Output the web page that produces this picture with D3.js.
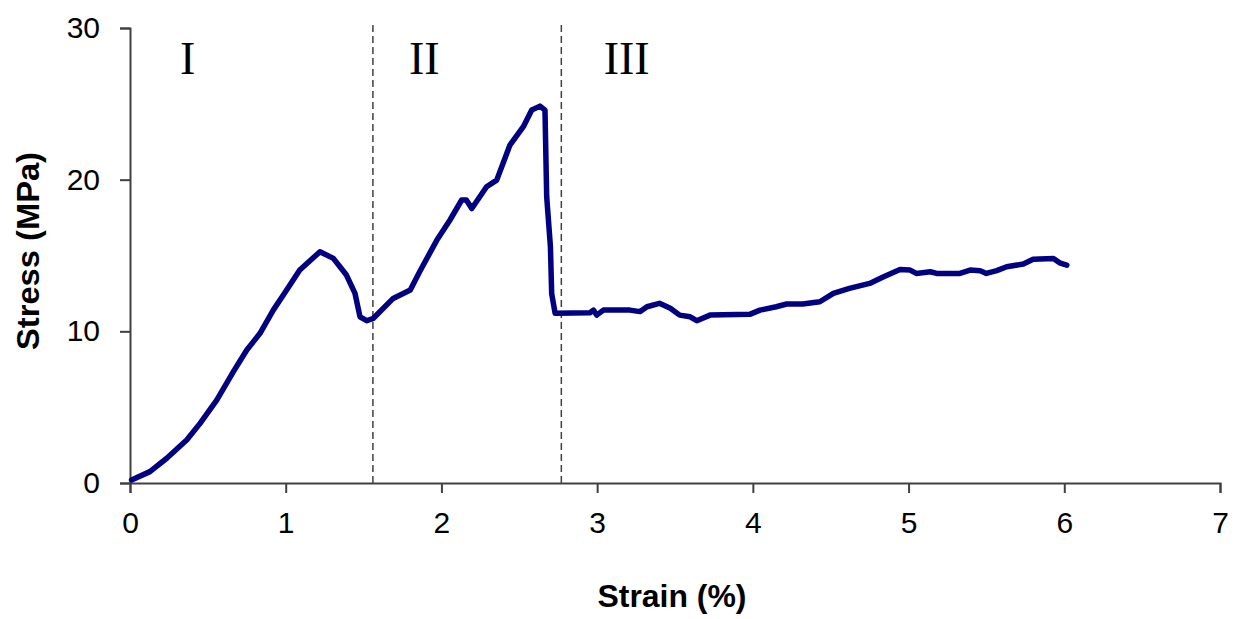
<!DOCTYPE html>
<html>
<head>
<meta charset="utf-8">
<script src="https://cdn.jsdelivr.net/npm/d3@7"></script>
<style>
  html, body { margin: 0; padding: 0; background: #fff; }
  svg { display: block; }
</style>
</head>
<body>
<svg id="chart" width="1241" height="619"></svg>
<script>
// ---- data ----
const strain = [0.01, 0.128, 0.236, 0.364, 0.45, 0.557, 0.664, 0.75, 0.835, 0.92, 1.006, 1.09, 1.22, 1.306, 1.39, 1.445, 1.477, 1.52, 1.563,
  1.69, 1.80, 1.86, 1.97, 2.055, 2.13, 2.16, 2.195, 2.29, 2.355, 2.44, 2.526, 2.58, 2.633, 2.665, 2.676, 2.70, 2.708, 2.73,
  2.954, 2.976, 2.997, 3.04, 3.21, 3.276, 3.32, 3.40, 3.47, 3.53, 3.597, 3.64, 3.725, 3.98, 4.046, 4.15, 4.217, 4.32, 4.43,
  4.517, 4.62, 4.75, 4.84, 4.945, 5.01, 5.05, 5.14, 5.18, 5.33, 5.395, 5.46, 5.50, 5.566, 5.63, 5.737, 5.80, 5.93, 5.97, 6.016];
const stress = [0.2, 0.75, 1.63, 2.83, 3.93, 5.47, 7.34, 8.77, 9.87, 11.4, 12.72, 14.04, 15.25, 14.81, 13.71, 12.5, 10.96, 10.7, 10.86,
  12.17, 12.72, 13.93, 16.0, 17.34, 18.66, 18.66, 18.1, 19.53, 19.97, 22.28, 23.49, 24.59, 24.85, 24.59, 18.87, 15.58, 12.5, 11.19,
  11.23, 11.4, 11.07, 11.4, 11.4, 11.3, 11.62, 11.85, 11.52, 11.07, 10.96, 10.7, 11.07, 11.12, 11.4, 11.62, 11.8, 11.8, 11.95,
  12.5, 12.83, 13.16, 13.6, 14.08, 14.04, 13.82, 13.93, 13.82, 13.82, 14.04, 14.0, 13.82, 14.0, 14.26, 14.44, 14.75, 14.81, 14.52, 14.37];
const xTicks = [0, 1, 2, 3, 4, 5, 6, 7];
const yTicks = [0, 10, 20, 30];
const regionBounds = [1.56, 2.77];
const regionLabels = ["I", "II", "III"];
const regionLabelX = [0.37, 1.89, 3.19];
const regionLabelY = 27;

// ---- chart ----
const svg = d3.select("#chart");
const x = d3.scaleLinear().domain([0, 7]).range([130, 1220]);
const y = d3.scaleLinear().domain([0, 30]).range([483, 28]);
const axisColor = "#404040";
const sans = "Arial, 'Liberation Sans', sans-serif";

// x axis
const gx = svg.append("g").attr("transform", `translate(0,${y(0)})`)
  .call(d3.axisBottom(x).tickValues(xTicks).tickFormat(d3.format("d")).tickSize(10).tickPadding(19));
gx.select(".domain").attr("stroke", axisColor).attr("stroke-width", 2);
gx.selectAll(".tick line").attr("stroke", axisColor).attr("stroke-width", 2);
gx.selectAll(".tick text").attr("font-family", sans).attr("font-size", 30).attr("fill", "#000");

// y axis
const gy = svg.append("g").attr("transform", `translate(${x(0)},0)`)
  .call(d3.axisLeft(y).tickValues(yTicks).tickFormat(d3.format("d")).tickSize(10).tickPadding(20));
gy.select(".domain").attr("stroke", axisColor).attr("stroke-width", 2);
gy.selectAll(".tick line").attr("stroke", axisColor).attr("stroke-width", 2);
gy.selectAll(".tick text").attr("font-family", sans).attr("font-size", 30).attr("fill", "#000");

// region dividers
svg.append("g").selectAll("line").data(regionBounds).join("line")
  .attr("x1", d => x(d)).attr("x2", d => x(d))
  .attr("y1", 25).attr("y2", y(0))
  .attr("stroke", "#404040").attr("stroke-width", 1.5).attr("stroke-dasharray", "7,4");

// region labels
svg.append("g").selectAll("text").data(regionLabels).join("text")
  .attr("x", (d, i) => x(regionLabelX[i])).attr("y", y(regionLabelY))
  .attr("text-anchor", "middle")
  .attr("font-family", "'Times New Roman', 'Liberation Serif', serif")
  .attr("font-size", 46).attr("fill", "#000")
  .text(d => d);

// data line
const pts = strain.map((s, i) => [s, stress[i]]);
svg.append("path").datum(pts)
  .attr("fill", "none").attr("stroke", "#000080").attr("stroke-width", 5.5)
  .attr("stroke-linejoin", "round").attr("stroke-linecap", "round")
  .attr("d", d3.line().x(d => x(d[0])).y(d => y(d[1])));

// axis titles
svg.append("text").attr("x", 672).attr("y", 607).attr("text-anchor", "middle")
  .attr("font-family", sans).attr("font-weight", "bold")
  .attr("font-size", 31).attr("textLength", 149).attr("lengthAdjust", "spacingAndGlyphs")
  .attr("fill", "#000").text("Strain (%)");
svg.append("text").attr("transform", "translate(39,251) rotate(-90)").attr("text-anchor", "middle")
  .attr("font-family", sans).attr("font-weight", "bold")
  .attr("font-size", 31).attr("textLength", 198).attr("lengthAdjust", "spacingAndGlyphs")
  .attr("fill", "#000").text("Stress (MPa)");
</script>
</body>
</html>
